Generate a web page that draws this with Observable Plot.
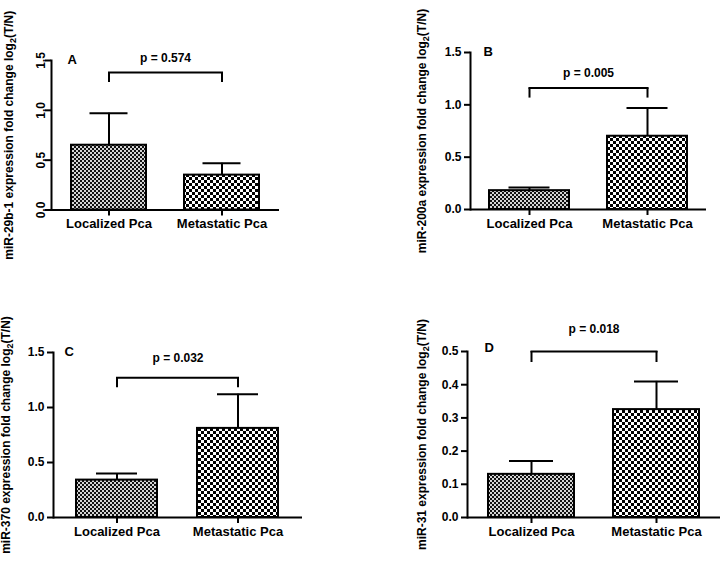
<!DOCTYPE html>
<html><head><meta charset="utf-8">
<script src="https://cdn.jsdelivr.net/npm/d3@7"></script>
<script src="https://cdn.jsdelivr.net/npm/@observablehq/plot@0.6"></script>
<style>
body{margin:0;background:#fff;}
#wrap{position:relative;width:720px;height:561px;overflow:hidden;background:#fff;}
.panel{position:absolute;}
</style></head><body>
<svg width="0" height="0" style="position:absolute;left:0;top:0">
<defs>
<pattern id="fineCheck" width="4" height="4" patternUnits="userSpaceOnUse">
<rect width="4" height="4" fill="#d4d4d4"/><rect width="2" height="2" fill="#111"/><rect x="2" y="2" width="2" height="2" fill="#111"/>
</pattern>
<pattern id="coarseCheck" width="6" height="6" patternUnits="userSpaceOnUse">
<rect width="6" height="6" fill="#fff"/><rect width="3" height="3" fill="#000"/><rect x="3" y="3" width="3" height="3" fill="#000"/>
</pattern>
</defs></svg>
<div id="wrap"></div>
<script>
// ---- data ----
const groups = ["Localized Pca", "Metastatic Pca"];
const panelLetters = ["A", "B", "C", "D"];
const mirNames = ["miR-29b-1", "miR-200a", "miR-370", "miR-31"];
const mir29b1Mean = [0.65, 0.35];
const mir29b1Upper = [0.97, 0.47];
const mir200aMean = [0.18, 0.70];
const mir200aUpper = [0.21, 0.97];
const mir370Mean = [0.34, 0.81];
const mir370Upper = [0.40, 1.12];
const mir31Mean = [0.13, 0.325];
const mir31Upper = [0.17, 0.41];
const pValues = ["p = 0.574", "p = 0.005", "p = 0.032", "p = 0.018"];
const bracketY = [1.38, 1.16, 1.27, 0.5];
const pLabelY = [1.52, 1.30, 1.445, 0.566];
const ticksWide = [0, 0.5, 1.0, 1.5];
const ticksSmall = [0, 0.1, 0.2, 0.3, 0.4, 0.5];

const means = [mir29b1Mean, mir200aMean, mir370Mean, mir31Mean];
const uppers = [mir29b1Upper, mir200aUpper, mir370Upper, mir31Upper];
const yDomains = [[0, 1.5], [0, 1.5], [0, 1.5], [0, 0.5]];
const yTicks = [ticksWide, ticksWide, ticksWide, ticksSmall];

// ---- layout ----
const layout = [
  {left: 0, top: 0, width: 300, height: 270, ml: 51, mr: 21, mt: 60, mb: 60.5, pi: 0.339, po: 0.174, cap: 18.5, leg: 10, ldx: 16, ldy: -1, rot: true, labelOffset: 47},
  {left: 370, top: 0, width: 350, height: 270, ml: 100, mr: 14, mt: 52, mb: 61, pi: 0.322, po: 0.161, cap: 19.5, leg: 10, ldx: 13, ldy: -1, rot: false, labelOffset: 53},
  {left: 0, top: 290, width: 310, height: 271, ml: 53, mr: 8, mt: 62, mb: 44, pi: 0.328, po: 0.185, cap: 20, leg: 10, ldx: 11, ldy: -0.5, rot: false, labelOffset: 52},
  {left: 370, top: 290, width: 350, height: 271, ml: 97, mr: 0, mt: 61, mb: 44, pi: 0.31, po: 0.159, cap: 21, leg: 11, ldx: 17, ldy: -4, rot: false, labelOffset: 50}
];

const wrap = document.getElementById("wrap");
const font = "'Liberation Sans', Arial, Helvetica, sans-serif";

layout.forEach((L, k) => {
  const rows = groups.map((g, i) => ({group: g, mean: means[k][i], upper: uppers[k][i]}));
  const bracket = groups.map(g => ({group: g, y: bracketY[k]}));
  const labelText = mirNames[k] + " expression fold change log2(T/N)";
  const plot = Plot.plot({
    width: L.width, height: L.height,
    marginLeft: L.ml, marginRight: L.mr, marginTop: L.mt, marginBottom: L.mb,
    style: {fontFamily: font, fontWeight: "bold", fontSize: "12px", color: "black", background: "white", overflow: "visible"},
    x: {type: "band", domain: groups, paddingInner: L.pi, paddingOuter: L.po, align: 0.5},
    y: {domain: yDomains[k]},
    marks: [
      Plot.barY(rows, {filter: d => d.group === groups[0], x: "group", y: "mean", fill: "url(#fineCheck)", stroke: "black", strokeWidth: 2}),
      Plot.barY(rows, {filter: d => d.group === groups[1], x: "group", y: "mean", fill: "url(#coarseCheck)", stroke: "black", strokeWidth: 2}),
      Plot.ruleX(rows, {x: "group", y1: "mean", y2: "upper", stroke: "black", strokeWidth: 2}),
      Plot.tickY(rows, {x: "group", y: "upper", stroke: "black", strokeWidth: 2, insetLeft: L.cap, insetRight: L.cap}),
      Plot.ruleY([0], {stroke: "black", strokeWidth: 2}),
      Plot.frame({anchor: "left", stroke: "black", strokeWidth: 2}),
      Plot.axisY({
        ticks: yTicks[k], tickFormat: d3.format(".1f"), tickSize: 6, tickPadding: L.rot ? 1 : 3,
        tickRotate: L.rot ? -90 : 0, strokeWidth: 2, fontSize: 12,
        label: labelText, labelAnchor: "center", labelOffset: L.labelOffset
      }),
      Plot.axisX({tickSize: 6, tickPadding: 3, strokeWidth: 2, fontSize: 13, label: null}),
      Plot.line(bracket, {x: "group", y: "y", stroke: "black", strokeWidth: 2, strokeLinecap: "square"}),
      Plot.ruleX(bracket, {x: "group", y1: "y", y2: "y", insetBottom: -L.leg, stroke: "black", strokeWidth: 2}),
      Plot.text([pValues[k]], {y: () => pLabelY[k], text: d => d, fontSize: 12, lineAnchor: "middle"}),
      Plot.text([panelLetters[k]], {frameAnchor: "top-left", text: d => d, dx: L.ldx, dy: L.ldy, textAnchor: "start", lineAnchor: "middle", fontSize: 13})
    ]
  });
  plot.classList.add("panel");
  plot.style.left = L.left + "px";
  plot.style.top = L.top + "px";
  plot.style.position = "absolute";
  wrap.appendChild(plot);
  // subscript in the y-axis label
  const t = plot.querySelector('g[aria-label="y-axis label"] text');
  if (t) {
    t.textContent = "";
    const sel = d3.select(t);
    sel.append("tspan").text(mirNames[k] + " expression fold change log");
    sel.append("tspan").attr("dy", 3).attr("font-size", 9).text("2");
    sel.append("tspan").attr("dy", -3).text("(T/N)");
  }
});
</script>
</body></html>
